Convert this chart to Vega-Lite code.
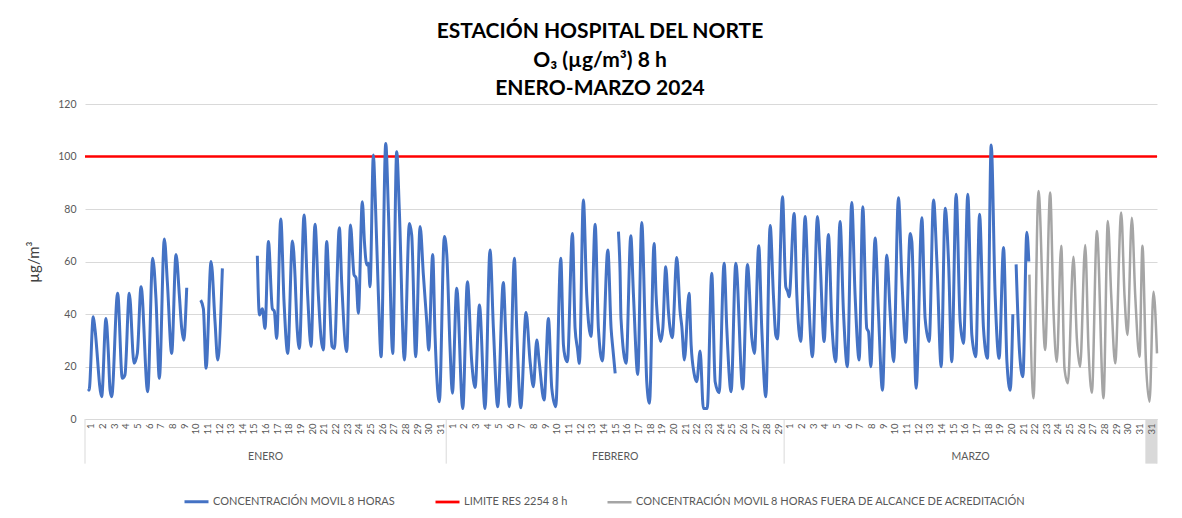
{
  "$schema": "https://vega.github.io/schema/vega-lite/v6.json",
  "autosize": {"type": "none"},
  "width": 1072,
  "height": 315,
  "padding": {"left": 85, "top": 104, "right": 25, "bottom": 99},
  "background": "white",
  "config": {
    "font": "Lato",
    "view": {"stroke": null},
    "legend": {"symbolStrokeWidth": 3}
  },
  "title": {
    "text": ["ESTACIÓN HOSPITAL DEL NORTE", "O₃ (µg/m³) 8 h", "ENERO-MARZO 2024"],
    "font": "Lato",
    "fontSize": 21,
    "fontWeight": "bold",
    "color": "#000000",
    "lineHeight": 28.5,
    "anchor": "middle",
    "frame": "group",
    "offset": 0,
    "dx": -21
  },
  "datasets": {
    "conc": [
      {"t":0.29,"v":11.4,"s":"A","g":1},{"t":0.35,"v":11,"s":"A","g":1},{"t":0.71,"v":39,"s":"A","g":1},{"t":0.85,"v":34.5,"s":"A","g":1},{"t":1.43,"v":8.5,"s":"A","g":1},{"t":1.8,"v":38.3,"s":"A","g":1},{"t":2.0,"v":25.6,"s":"A","g":1},{"t":2.15,"v":11,"s":"A","g":1},{"t":2.29,"v":8.5,"s":"A","g":1},{"t":2.8,"v":47.9,"s":"A","g":1},{"t":3.2,"v":15.5,"s":"A","g":1},{"t":3.43,"v":16.8,"s":"A","g":1},{"t":3.8,"v":47.9,"s":"A","g":1},{"t":4.21,"v":21.2,"s":"A","g":1},{"t":4.49,"v":25,"s":"A","g":1},{"t":4.81,"v":50.4,"s":"A","g":1},{"t":5.38,"v":10.4,"s":"A","g":1},{"t":5.81,"v":61.2,"s":"A","g":1},{"t":6.09,"v":46,"s":"A","g":1},{"t":6.38,"v":15.5,"s":"A","g":1},{"t":6.81,"v":68.6,"s":"A","g":1},{"t":7.07,"v":52,"s":"A","g":1},{"t":7.44,"v":25,"s":"A","g":1},{"t":7.81,"v":62.7,"s":"A","g":1},{"t":8.1,"v":47,"s":"A","g":1},{"t":8.3,"v":34.5,"s":"A","g":1},{"t":8.47,"v":30,"s":"A","g":1},{"t":8.73,"v":50,"s":"A","g":1},
      {"t":9.93,"v":45.3,"s":"A","g":2},{"t":10.16,"v":42,"s":"A","g":2},{"t":10.39,"v":19.3,"s":"A","g":2},{"t":10.82,"v":60,"s":"A","g":2},{"t":11.16,"v":37,"s":"A","g":2},{"t":11.39,"v":22.5,"s":"A","g":2},{"t":11.79,"v":57.4,"s":"A","g":2},
      {"t":14.79,"v":62.2,"s":"A","g":3},{"t":14.97,"v":39.6,"s":"A","g":3},{"t":15.22,"v":42,"s":"A","g":3},{"t":15.45,"v":34.5,"s":"A","g":3},{"t":15.74,"v":67.6,"s":"A","g":3},{"t":16.08,"v":42,"s":"A","g":3},{"t":16.25,"v":41,"s":"A","g":3},{"t":16.45,"v":30.7,"s":"A","g":3},{"t":16.8,"v":76.2,"s":"A","g":3},{"t":17.08,"v":44.7,"s":"A","g":3},{"t":17.4,"v":25,"s":"A","g":3},{"t":17.8,"v":67.8,"s":"A","g":3},{"t":18.03,"v":54,"s":"A","g":3},{"t":18.17,"v":37.7,"s":"A","g":3},{"t":18.4,"v":26.9,"s":"A","g":3},{"t":18.8,"v":77.7,"s":"A","g":3},{"t":19.11,"v":47,"s":"A","g":3},{"t":19.4,"v":27.6,"s":"A","g":3},{"t":19.74,"v":74.2,"s":"A","g":3},{"t":20.03,"v":47,"s":"A","g":3},{"t":20.26,"v":30.7,"s":"A","g":3},{"t":20.46,"v":26.3,"s":"A","g":3},{"t":20.74,"v":67.6,"s":"A","g":3},{"t":20.97,"v":47,"s":"A","g":3},{"t":21.2,"v":27.6,"s":"A","g":3},{"t":21.4,"v":26.9,"s":"A","g":3},{"t":21.83,"v":72.9,"s":"A","g":3},{"t":22.03,"v":52,"s":"A","g":3},{"t":22.46,"v":25.7,"s":"A","g":3},{"t":22.78,"v":73.9,"s":"A","g":3},{"t":23.09,"v":54.9,"s":"A","g":3},{"t":23.26,"v":53.8,"s":"A","g":3},{"t":23.46,"v":40.3,"s":"A","g":3},{"t":23.8,"v":82.8,"s":"A","g":3},{"t":23.98,"v":67.6,"s":"A","g":3},{"t":24.18,"v":58.7,"s":"A","g":3},{"t":24.32,"v":59.3,"s":"A","g":3},{"t":24.46,"v":50.4,"s":"A","g":3},{"t":24.75,"v":100.6,"s":"A","g":3},{"t":24.89,"v":86.6,"s":"A","g":3},{"t":25.18,"v":47.2,"s":"A","g":3},{"t":25.41,"v":23.7,"s":"A","g":3},{"t":25.81,"v":105,"s":"A","g":3},{"t":26.04,"v":79,"s":"A","g":3},{"t":26.41,"v":25,"s":"A","g":3},{"t":26.75,"v":101.8,"s":"A","g":3},{"t":26.98,"v":79,"s":"A","g":3},{"t":27.41,"v":22.5,"s":"A","g":3},{"t":27.84,"v":74.5,"s":"A","g":3},{"t":28.04,"v":70,"s":"A","g":3},{"t":28.38,"v":23.7,"s":"A","g":3},{"t":28.76,"v":73.3,"s":"A","g":3},{"t":29.04,"v":54.9,"s":"A","g":3},{"t":29.33,"v":37,"s":"A","g":3},{"t":29.5,"v":26.3,"s":"A","g":3},{"t":29.84,"v":62.7,"s":"A","g":3},{"t":30.04,"v":32,"s":"A","g":3},{"t":30.41,"v":6.6,"s":"A","g":3},{"t":30.84,"v":69.5,"s":"A","g":3},{"t":31.05,"v":62.5,"s":"A","g":3},{"t":31.33,"v":26.9,"s":"A","g":3},{"t":31.53,"v":9.8,"s":"A","g":3},{"t":31.9,"v":49.8,"s":"A","g":3},{"t":32.42,"v":4,"s":"A","g":3},{"t":32.82,"v":52.3,"s":"A","g":3},{"t":33.19,"v":21.8,"s":"A","g":3},{"t":33.48,"v":12,"s":"A","g":3},{"t":33.85,"v":43.4,"s":"A","g":3},{"t":34.33,"v":4,"s":"A","g":3},{"t":34.76,"v":64.4,"s":"A","g":3},{"t":35.05,"v":34.5,"s":"A","g":3},{"t":35.42,"v":4.7,"s":"A","g":3},{"t":35.9,"v":52,"s":"A","g":3},{"t":36.11,"v":32,"s":"A","g":3},{"t":36.42,"v":4.7,"s":"A","g":3},{"t":36.85,"v":61.2,"s":"A","g":3},{"t":37.05,"v":34.5,"s":"A","g":3},{"t":37.4,"v":4.3,"s":"A","g":3},{"t":37.85,"v":40.6,"s":"A","g":3},{"t":38.2,"v":21.8,"s":"A","g":3},{"t":38.48,"v":12.3,"s":"A","g":3},{"t":38.77,"v":30.1,"s":"A","g":3},{"t":38.98,"v":21.8,"s":"A","g":3},{"t":39.4,"v":7.2,"s":"A","g":3},{"t":39.77,"v":38.3,"s":"A","g":3},{"t":40.06,"v":11.7,"s":"A","g":3},{"t":40.4,"v":4.7,"s":"A","g":3},{"t":40.83,"v":61.2,"s":"A","g":3},{"t":41.06,"v":28.2,"s":"A","g":3},{"t":41.2,"v":23.7,"s":"A","g":3},{"t":41.4,"v":21.8,"s":"A","g":3},{"t":41.83,"v":70.7,"s":"A","g":3},{"t":42.06,"v":34.5,"s":"A","g":3},{"t":42.26,"v":26.9,"s":"A","g":3},{"t":42.43,"v":21.2,"s":"A","g":3},{"t":42.77,"v":83.4,"s":"A","g":3},{"t":43.06,"v":47.2,"s":"A","g":3},{"t":43.43,"v":31.4,"s":"A","g":3},{"t":43.78,"v":74.2,"s":"A","g":3},{"t":44.06,"v":34.5,"s":"A","g":3},{"t":44.4,"v":22.1,"s":"A","g":3},{"t":44.87,"v":64.4,"s":"A","g":3},{"t":45.15,"v":34.5,"s":"A","g":3},{"t":45.3,"v":26.9,"s":"A","g":3},{"t":45.5,"v":17.4,"s":"A","g":3},
      {"t":45.78,"v":71.4,"s":"A","g":4},{"t":45.92,"v":56,"s":"A","g":4},{"t":46.0,"v":38.3,"s":"A","g":4},{"t":46.44,"v":21.2,"s":"A","g":4},{"t":46.84,"v":69.8,"s":"A","g":4},{"t":47.07,"v":47.2,"s":"A","g":4},{"t":47.44,"v":17,"s":"A","g":4},{"t":47.78,"v":74.9,"s":"A","g":4},{"t":48.07,"v":34.5,"s":"A","g":4},{"t":48.21,"v":14.2,"s":"A","g":4},{"t":48.44,"v":6,"s":"A","g":4},{"t":48.84,"v":66.9,"s":"A","g":4},{"t":49.01,"v":47.2,"s":"A","g":4},{"t":49.21,"v":34.5,"s":"A","g":4},{"t":49.4,"v":29.5,"s":"A","g":4},{"t":49.59,"v":34.5,"s":"A","g":4},{"t":49.84,"v":58,"s":"A","g":4},{"t":50.07,"v":41,"s":"A","g":4},{"t":50.4,"v":31,"s":"A","g":4},{"t":50.79,"v":61.5,"s":"A","g":4},{"t":51.07,"v":41,"s":"A","g":4},{"t":51.22,"v":35.2,"s":"A","g":4},{"t":51.44,"v":22.5,"s":"A","g":4},{"t":51.84,"v":47.9,"s":"A","g":4},{"t":52.02,"v":28.2,"s":"A","g":4},{"t":52.27,"v":17.4,"s":"A","g":4},{"t":52.5,"v":14.2,"s":"A","g":4},{"t":52.79,"v":25.9,"s":"A","g":4},{"t":53.07,"v":4,"s":"A","g":4},{"t":53.4,"v":4,"s":"A","g":4},{"t":53.79,"v":55.5,"s":"A","g":4},{"t":54.08,"v":14.2,"s":"A","g":4},{"t":54.42,"v":10,"s":"A","g":4},{"t":54.85,"v":59.3,"s":"A","g":4},{"t":55.08,"v":34.5,"s":"A","g":4},{"t":55.45,"v":10.4,"s":"A","g":4},{"t":55.85,"v":59.3,"s":"A","g":4},{"t":56.45,"v":11.4,"s":"A","g":4},{"t":56.85,"v":58.9,"s":"A","g":4},{"t":57.23,"v":30.7,"s":"A","g":4},{"t":57.45,"v":25,"s":"A","g":4},{"t":57.82,"v":66,"s":"A","g":4},{"t":58.08,"v":34.5,"s":"A","g":4},{"t":58.43,"v":8.5,"s":"A","g":4},{"t":58.8,"v":73.7,"s":"A","g":4},{"t":59.08,"v":47.2,"s":"A","g":4},{"t":59.28,"v":32,"s":"A","g":4},{"t":59.43,"v":30.5,"s":"A","g":4},{"t":59.86,"v":84.7,"s":"A","g":4},{"t":60.14,"v":50.4,"s":"A","g":4},{"t":60.31,"v":48.5,"s":"A","g":4},{"t":60.43,"v":46.6,"s":"A","g":4},{"t":60.86,"v":78.3,"s":"A","g":4},{"t":61.09,"v":47.2,"s":"A","g":4},{"t":61.43,"v":29.5,"s":"A","g":4},{"t":61.8,"v":77.1,"s":"A","g":4},{"t":62.09,"v":47.2,"s":"A","g":4},{"t":62.43,"v":23.7,"s":"A","g":4},{"t":62.86,"v":77.1,"s":"A","g":4},{"t":63.09,"v":60,"s":"A","g":4},{"t":63.43,"v":29.5,"s":"A","g":4},{"t":63.8,"v":70.3,"s":"A","g":4},{"t":64.09,"v":37,"s":"A","g":4},{"t":64.43,"v":21.8,"s":"A","g":4},{"t":64.8,"v":75.2,"s":"A","g":4},{"t":65.09,"v":41,"s":"A","g":4},{"t":65.43,"v":19.9,"s":"A","g":4},{"t":65.8,"v":82.5,"s":"A","g":4},{"t":66.09,"v":47.2,"s":"A","g":4},{"t":66.44,"v":22.5,"s":"A","g":4},{"t":66.75,"v":80.9,"s":"A","g":4},{"t":67.09,"v":34.5,"s":"A","g":4},{"t":67.24,"v":33.3,"s":"A","g":4},{"t":67.44,"v":19.9,"s":"A","g":4},{"t":67.81,"v":69,"s":"A","g":4},{"t":68.09,"v":41,"s":"A","g":4},{"t":68.44,"v":11,"s":"A","g":4},{"t":68.81,"v":62.5,"s":"A","g":4},{"t":69.09,"v":41,"s":"A","g":4},{"t":69.4,"v":21.8,"s":"A","g":4},{"t":69.81,"v":84.3,"s":"A","g":4},{"t":70.1,"v":53.6,"s":"A","g":4},{"t":70.44,"v":29.2,"s":"A","g":4},{"t":70.82,"v":70.7,"s":"A","g":4},{"t":70.96,"v":67.6,"s":"A","g":4},{"t":71.33,"v":11.7,"s":"A","g":4},{"t":71.82,"v":76.7,"s":"A","g":4},{"t":72.1,"v":38.3,"s":"A","g":4},{"t":72.45,"v":29.5,"s":"A","g":4},{"t":72.82,"v":83.4,"s":"A","g":4},{"t":73.11,"v":60,"s":"A","g":4},{"t":73.48,"v":19.9,"s":"A","g":4},{"t":73.82,"v":80.3,"s":"A","g":4},{"t":74.11,"v":60,"s":"A","g":4},{"t":74.39,"v":21.8,"s":"A","g":4},{"t":74.76,"v":85.6,"s":"A","g":4},{"t":75.11,"v":37,"s":"A","g":4},{"t":75.4,"v":28.8,"s":"A","g":4},{"t":75.76,"v":85.6,"s":"A","g":4},{"t":76.11,"v":32,"s":"A","g":4},{"t":76.45,"v":23.7,"s":"A","g":4},{"t":76.77,"v":78,"s":"A","g":4},{"t":77.11,"v":34.5,"s":"A","g":4},{"t":77.45,"v":23.1,"s":"A","g":4},{"t":77.77,"v":104.4,"s":"A","g":4},{"t":78.11,"v":47.2,"s":"A","g":4},{"t":78.45,"v":23.1,"s":"A","g":4},{"t":78.83,"v":65.3,"s":"A","g":4},{"t":79.12,"v":21.8,"s":"A","g":4},{"t":79.4,"v":11,"s":"A","g":4},{"t":79.63,"v":39.9,"s":"A","g":4},
      {"t":79.91,"v":58.9,"s":"A","g":5},{"t":80.2,"v":25.7,"s":"A","g":5},{"t":80.49,"v":16.1,"s":"A","g":5},{"t":80.83,"v":71.1,"s":"A","g":5},{"t":81.0,"v":60,"s":"A","g":5},
      {"t":81.05,"v":55,"s":"F","g":6},{"t":81.4,"v":7.9,"s":"F","g":6},{"t":81.83,"v":86.9,"s":"F","g":6},{"t":82.4,"v":26.3,"s":"F","g":6},{"t":82.83,"v":86.3,"s":"F","g":6},{"t":83.12,"v":40.9,"s":"F","g":6},{"t":83.4,"v":21.8,"s":"F","g":6},{"t":83.78,"v":66,"s":"F","g":6},{"t":84.06,"v":19.3,"s":"F","g":6},{"t":84.35,"v":13.6,"s":"F","g":6},{"t":84.83,"v":61.8,"s":"F","g":6},{"t":85.12,"v":30.7,"s":"F","g":6},{"t":85.4,"v":19.9,"s":"F","g":6},{"t":85.84,"v":66.3,"s":"F","g":6},{"t":86.12,"v":26.9,"s":"F","g":6},{"t":86.41,"v":10,"s":"F","g":6},{"t":86.84,"v":71.6,"s":"F","g":6},{"t":87.41,"v":7.9,"s":"F","g":6},{"t":87.78,"v":75.4,"s":"F","g":6},{"t":88.07,"v":47.2,"s":"F","g":6},{"t":88.41,"v":21.2,"s":"F","g":6},{"t":88.93,"v":78.7,"s":"F","g":6},{"t":89.21,"v":47.2,"s":"F","g":6},{"t":89.47,"v":32,"s":"F","g":6},{"t":89.84,"v":76.7,"s":"F","g":6},{"t":90.13,"v":47.2,"s":"F","g":6},{"t":90.5,"v":23.7,"s":"F","g":6},{"t":90.75,"v":66,"s":"F","g":6},{"t":91.05,"v":21.8,"s":"F","g":6},{"t":91.36,"v":6.6,"s":"F","g":6},{"t":91.7,"v":48.5,"s":"F","g":6},{"t":92.0,"v":25,"s":"F","g":6}
    ],
    "limite": [{"t": 0, "v": 100, "s": "L"}, {"t": 92, "v": 100, "s": "L"}],
    "meses": [{"t": 15.5, "v": -14.5, "m": "ENERO"}, {"t": 45.5, "v": -14.5, "m": "FEBRERO"}, {"t": 76, "v": -14.5, "m": "MARZO"}],
    "separadores": [{"t": 0, "v": 0, "v2": -17}, {"t": 31, "v": 0, "v2": -17}, {"t": 60, "v": 0, "v2": -17}, {"t": 92, "v": 0, "v2": -17}],
    "extra": [{"t": 91, "t2": 92, "v": 0, "v2": -17}]
  },
  "encoding": {
    "x": {
      "field": "t",
      "type": "quantitative",
      "scale": {"domain": [0, 92], "nice": false, "zero": false},
      "axis": {
        "title": null,
        "grid": false,
        "ticks": false,
        "tickSize": 0,
        "domainColor": "#d9d9d9",
        "domainWidth": 1,
        "values": [0.5,1.5,2.5,3.5,4.5,5.5,6.5,7.5,8.5,9.5,10.5,11.5,12.5,13.5,14.5,15.5,16.5,17.5,18.5,19.5,20.5,21.5,22.5,23.5,24.5,25.5,26.5,27.5,28.5,29.5,30.5,31.5,32.5,33.5,34.5,35.5,36.5,37.5,38.5,39.5,40.5,41.5,42.5,43.5,44.5,45.5,46.5,47.5,48.5,49.5,50.5,51.5,52.5,53.5,54.5,55.5,56.5,57.5,58.5,59.5,60.5,61.5,62.5,63.5,64.5,65.5,66.5,67.5,68.5,69.5,70.5,71.5,72.5,73.5,74.5,75.5,76.5,77.5,78.5,79.5,80.5,81.5,82.5,83.5,84.5,85.5,86.5,87.5,88.5,89.5,90.5,91.5],
        "labelExpr": "floor(datum.value) < 31 ? floor(datum.value) + 1 : floor(datum.value) < 60 ? floor(datum.value) - 30 : floor(datum.value) < 91 ? floor(datum.value) - 59 : 31",
        "labelAngle": -90,
        "labelFontSize": 9.5,
        "labelColor": "#595959",
        "labelPadding": 4,
        "labelOverlap": false,
        "labelFlush": false,
        "labelBound": false,
        "zindex": 1
      }
    },
    "y": {
      "field": "v",
      "type": "quantitative",
      "scale": {"domain": [0, 120], "nice": false},
      "axis": {
        "values": [0, 20, 40, 60, 80, 100, 120],
        "title": "µg/m³",
        "titleFontSize": 15,
        "titleFontWeight": "normal",
        "titleColor": "#404040",
        "titlePadding": 16,
        "grid": true,
        "gridColor": "#d9d9d9",
        "gridWidth": 1,
        "domain": false,
        "ticks": false,
        "tickSize": 0,
        "labelPadding": 9,
        "labelFontSize": 10.5,
        "labelColor": "#595959",
        "zindex": 0
      }
    }
  },
  "layer": [
    {
      "data": {"name": "extra"},
      "mark": {"type": "rect", "fill": "#d9d9d9"},
      "encoding": {"x2": {"field": "t2"}, "y2": {"field": "v2"}}
    },
    {
      "data": {"name": "separadores"},
      "mark": {"type": "rule", "color": "#d9d9d9", "strokeWidth": 1},
      "encoding": {"y2": {"field": "v2"}}
    },
    {
      "data": {"name": "meses"},
      "mark": {"type": "text", "fontSize": 10.5, "color": "#595959", "baseline": "middle", "align": "center"},
      "encoding": {"text": {"field": "m"}}
    },
    {
      "data": {"name": "limite"},
      "mark": {"type": "line", "strokeWidth": 2.5},
      "encoding": {
        "color": {
          "field": "s",
          "type": "nominal",
          "scale": {"domain": ["A", "L", "F"], "range": ["#4472C4", "#FF0000", "#A5A5A5"]},
          "legend": {
            "title": null,
            "orient": "none",
            "legendX": 98,
            "legendY": 384,
            "direction": "horizontal",
            "symbolType": "stroke",
            "symbolSize": 576,
            "symbolStrokeWidth": 3,
            "labelFontSize": 11,
            "labelColor": "#595959",
            "labelOffset": 3,
            "columnPadding": 34,
            "labelLimit": 0,
            "labelExpr": "datum.value == 'A' ? 'CONCENTRACIÓN MOVIL 8 HORAS' : datum.value == 'L' ? 'LIMITE RES 2254 8 h' : 'CONCENTRACIÓN MOVIL 8 HORAS FUERA DE ALCANCE DE ACREDITACIÓN'"
          }
        }
      }
    },
    {
      "data": {"name": "conc"},
      "mark": {"type": "line", "interpolate": "monotone"},
      "encoding": {
        "detail": {"field": "g", "type": "nominal"},
        "color": {
          "field": "s",
          "type": "nominal",
          "scale": {"domain": ["A", "L", "F"], "range": ["#4472C4", "#FF0000", "#A5A5A5"]}
        },
        "strokeWidth": {
          "field": "s",
          "type": "nominal",
          "scale": {"domain": ["A", "L", "F"], "range": [3, 2.5, 2]},
          "legend": null
        }
      }
    }
  ]
}
